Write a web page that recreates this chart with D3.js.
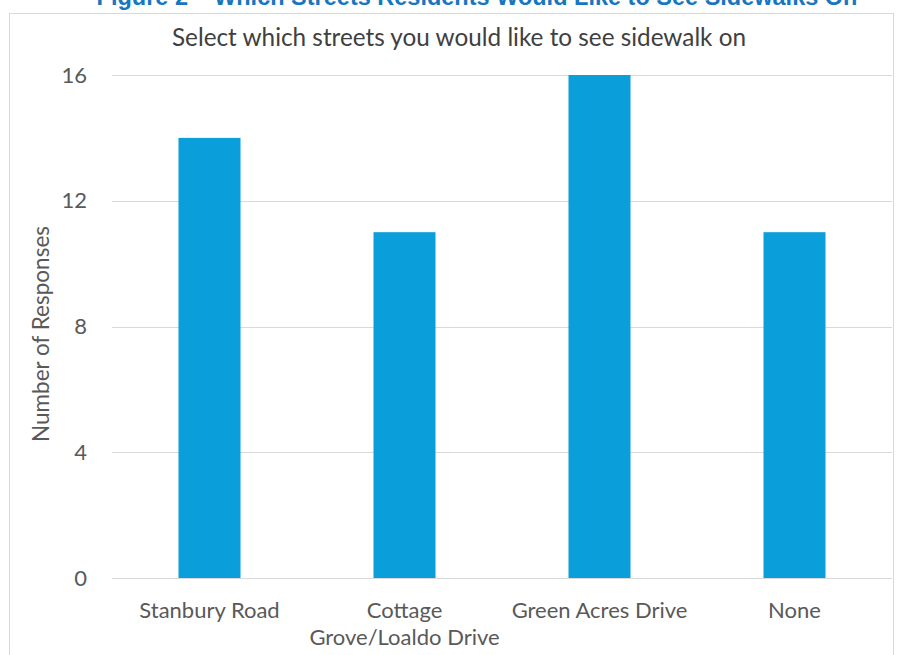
<!DOCTYPE html>
<html><head><meta charset="utf-8">
<script src="https://cdn.jsdelivr.net/npm/d3@7"></script>
<style>body{margin:0;background:#fff}svg{display:block}</style>
</head><body>
<script>
const categories = [["Stanbury Road"], ["Cottage", "Grove/Loaldo Drive"], ["Green Acres Drive"], ["None"]];
const values = [14, 11, 16, 11];
const yTicks = [0, 4, 8, 12, 16];
const title = "Figure 2 \u2013 Which Streets Residents Would Like to See Sidewalks On";
const subtitle = "Select which streets you would like to see sidewalk on";
const yLabel = "Number of Responses";

const W = 897, H = 655;
const font = "Lato, 'Open Sans', sans-serif";
const svg = d3.select("body").append("svg").attr("width", W).attr("height", H);

// figure title (cut at top, as in the reference)
svg.append("text").attr("x", 477).attr("y", 5).attr("text-anchor", "middle")
  .attr("font-family", "'Liberation Sans', sans-serif").attr("font-weight", "bold")
  .attr("font-size", 23.5).attr("fill", "#1777be").text(title);

// chart border
svg.append("rect").attr("x", 9.5).attr("y", 13.5).attr("width", 884).attr("height", 660)
  .attr("fill", "none").attr("stroke", "#d9d9d9");

const x = d3.scaleBand().domain(d3.range(categories.length)).range([112, 892])
  .paddingInner(0.682).paddingOuter(0.341);
const y = d3.scaleLinear().domain([0, 16]).range([578, 75]);

const g = svg.append("g");
g.selectAll("line.grid").data(yTicks).join("line")
  .attr("x1", 112).attr("x2", 892)
  .attr("y1", d => Math.round(y(d)) + 0.5).attr("y2", d => Math.round(y(d)) + 0.5)
  .attr("stroke", "#d9d9d9").attr("stroke-width", 1);

g.selectAll("rect.bar").data(values).join("rect")
  .attr("x", (d, i) => x(i)).attr("width", x.bandwidth())
  .attr("y", d => y(d)).attr("height", d => y(0) - y(d))
  .attr("fill", "#0a9fda");

g.selectAll("text.yt").data(yTicks).join("text")
  .attr("x", 87).attr("y", d => y(d) + 7.5).attr("text-anchor", "end")
  .attr("font-family", font).attr("font-size", 22).attr("fill", "#595959").text(d => d);

const xl = g.selectAll("text.xl").data(categories).join("text")
  .attr("text-anchor", "middle").attr("font-family", font).attr("font-size", 22).attr("fill", "#595959");
xl.each(function(lines, i) {
  d3.select(this).selectAll("tspan").data(lines).join("tspan")
    .attr("x", x(i) + x.bandwidth() / 2).attr("y", (d, j) => 618 + j * 27).text(d => d);
});

svg.append("text").attr("transform", "translate(49,334) rotate(-90)").attr("text-anchor", "middle")
  .attr("font-family", font).attr("font-size", 22.5).attr("fill", "#595959").text(yLabel);

svg.append("text").attr("x", 459).attr("y", 46).attr("text-anchor", "middle")
  .attr("font-family", font).attr("font-size", 24.3).attr("fill", "#404040").text(subtitle);
</script>
</body></html>
